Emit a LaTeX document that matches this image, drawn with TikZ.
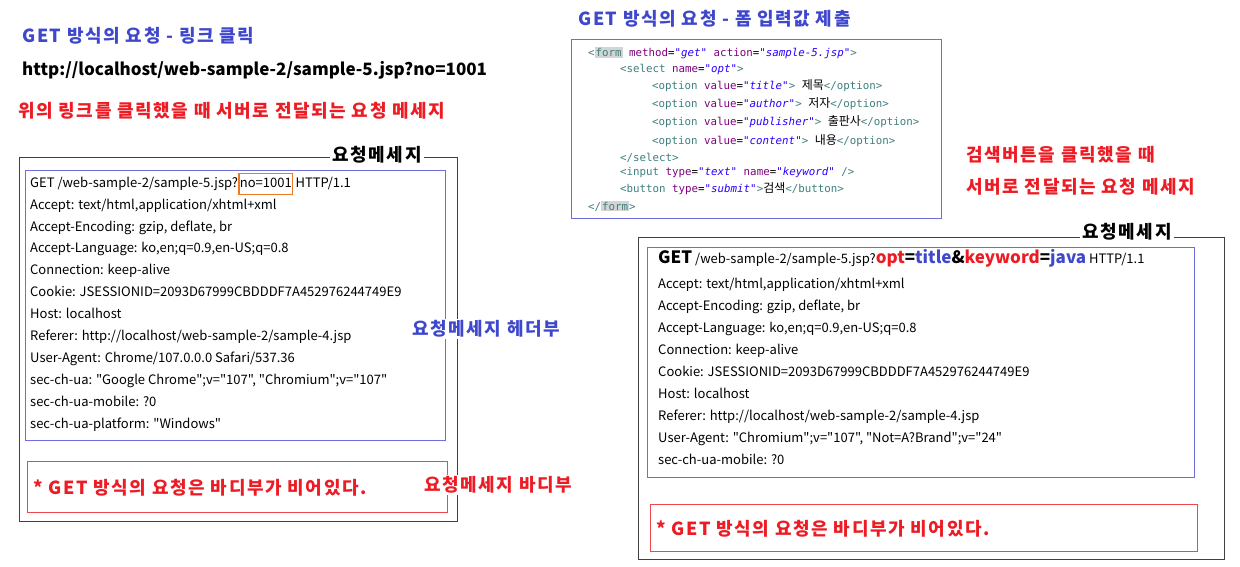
\documentclass[tikz,border=0pt]{standalone}
\usepackage{fontspec}
\setmainfont{Noto Sans CJK KR}[Ligatures=TeXOff]
\setmonofont{DejaVu Sans Mono}
\newfontfamily\krfont{Noto Sans CJK KR}
\newfontfamily\ttlfont{Noto Sans CJK KR}[LetterSpace=9,Ligatures=TeXOff]
\usepackage{tikz}
\usetikzlibrary{positioning}
\definecolor{ttlblue}{RGB}{63,72,204}
\definecolor{msgred}{RGB}{237,28,36}
\definecolor{boxblue}{RGB}{110,110,220}
\definecolor{boxred}{RGB}{240,70,80}
\definecolor{boxorange}{RGB}{240,120,30}
\definecolor{tagteal}{RGB}{63,127,127}
\definecolor{attrpurple}{RGB}{127,0,127}
\definecolor{valblue}{RGB}{42,0,255}
\tikzstyle{hline}=[anchor=west,inner sep=0pt,font=\fontsize{13}{15}\selectfont,text height=9.5pt,text depth=3pt]
\tikzstyle{btitle}=[anchor=west,inner sep=0pt,text=ttlblue,font=\ttlfont\fontsize{18}{21}\selectfont\bfseries]
\tikzstyle{rtitle}=[anchor=west,inner sep=0pt,text=msgred,font=\ttlfont\fontsize{18}{21}\selectfont\bfseries]
\tikzstyle{msglbl}=[fill=white,inner sep=2pt,font=\ttlfont\fontsize{18}{21}\selectfont\bfseries]
\tikzstyle{cline}=[anchor=west,inner sep=0pt,font=\ttfamily\fontsize{10.8}{13}\selectfont]
\tikzstyle{frame}=[draw=black!75,line width=0.9pt]
\tikzstyle{hbox}=[draw=boxblue,line width=0.9pt]
\tikzstyle{bbox}=[draw=boxred,line width=0.9pt]
\newcommand{\codetag}[1]{\textcolor{tagteal}{#1}}
\newcommand{\codeattr}[1]{\textcolor{attrpurple}{#1}}
\newcommand{\codeval}[1]{\textcolor{valblue}{\itshape #1}}
\newcommand{\codekr}[1]{{\krfont\fontsize{12}{13}\selectfont #1}}
\newcommand{\formhl}{{\setlength{\fboxsep}{1pt}\colorbox{black!17}{\codetag{form}}}}
\begin{document}
\begin{tikzpicture}[x=1pt,y=-1pt]
    \useasboundingbox[fill=white] (0,0) rectangle (1240,567);
    % link request
    \node[btitle] (T1) at (22,36) {GET 방식의 요청 - 링크 클릭};
    \node[anchor=west,inner sep=0pt,font=\fontsize{17}{20}\selectfont\bfseries] (url) at (22,70) {http://localhost/web-sample-2/sample-5.jsp?no=1001};
    \node[rtitle] (T2) at (18,111) {위의 링크를 클릭했을 때 서버로 전달되는 요청 메세지};
    \draw[frame] (19,157) rectangle (457,521);
    \draw[hbox] (25,170) rectangle (445,440);
    \draw[bbox] (27,461) rectangle (447,512);
    \node[msglbl] (M1) at (377,155) {요청메세지};
    \node[hline] (L1) at (30,184) {GET /web-sample-2/sample-5.jsp?};
    \node[hline,draw=boxorange,line width=1.2pt,inner xsep=1pt,inner ysep=4pt,right=0pt of L1] (q1) {no=1001};
    \node[hline,right=2pt of q1] (L1b) {HTTP/1.1};
    \foreach \t [count=\i from 2] in {{Accept: text/html,application/xhtml+xml},
        {Accept-Encoding: gzip, deflate, br},
        {Accept-Language: ko,en;q=0.9,en-US;q=0.8},
        {Connection: keep-alive},
        {Cookie: JSESSIONID=2093D67999CBDDDF7A452976244749E9},
        {Host: localhost},
        {Referer: http://localhost/web-sample-2/sample-4.jsp},
        {User-Agent: Chrome/107.0.0.0 Safari/537.36},
        {sec-ch-ua: "Google Chrome";v="107", "Chromium";v="107"},
        {sec-ch-ua-mobile: ?0},
        {sec-ch-ua-platform: "Windows"}}
      \node[hline] (L\i) at (30,{184+21.9*(\i-1)}) {\t};
    \node[msglbl,text=ttlblue,anchor=west] (H1) at (410,329) {요청메세지 헤더부};
    \node[msglbl,text=msgred,anchor=west] (B1) at (422,485) {요청메세지 바디부};
    \node[rtitle] (E1) at (33,488) {* GET 방식의 요청은 바디부가 비어있다.};
    % form request
    \node[btitle] (T3) at (578,19) {GET 방식의 요청 - 폼 입력값 제출};
    \draw[hbox] (571,39) rectangle (941,218);
    \node[cline] (C1) at (588,53) {\codetag{<}\formhl\ \codeattr{method}=\codeval{"get"} \codeattr{action}=\codeval{"sample-5.jsp"}\codetag{>}};
    \node[cline] (C2) at (620,69) {\codetag{<select} \codeattr{name}=\codeval{"opt"}\codetag{>}};
    \node[cline] (C3) at (652,86) {\codetag{<option} \codeattr{value}=\codeval{"title"}\codetag{>} \codekr{제목}\codetag{</option>}};
    \node[cline] (C4) at (652,104) {\codetag{<option} \codeattr{value}=\codeval{"author"}\codetag{>} \codekr{저자}\codetag{</option>}};
    \node[cline] (C5) at (652,122) {\codetag{<option} \codeattr{value}=\codeval{"publisher"}\codetag{>} \codekr{출판사}\codetag{</option>}};
    \node[cline] (C6) at (652,141) {\codetag{<option} \codeattr{value}=\codeval{"content"}\codetag{>} \codekr{내용}\codetag{</option>}};
    \node[cline] (C7) at (620,158) {\codetag{</select>}};
    \node[cline] (C8) at (620,173) {\codetag{<input} \codeattr{type}=\codeval{"text"} \codeattr{name}=\codeval{"keyword"} \codetag{/>}};
    \node[cline] (C9) at (620,189) {\codetag{<button} \codeattr{type}=\codeval{"submit"}\codetag{>}\codekr{검색}\codetag{</button>}};
    \node[cline] (C10) at (588,206) {\codetag{</}\formhl\codetag{>}};
    \node[rtitle] (T4) at (966,155) {검색버튼을 클릭했을 때};
    \node[rtitle] (T5) at (966,187) {서버로 전달되는 요청 메세지};
    \draw[frame] (638,237) rectangle (1224,559);
    \draw[hbox] (647,247) rectangle (1194,477);
    \draw[bbox] (650,504) rectangle (1197,551);
    \node[msglbl] (M2) at (1127,232) {요청메세지};
    \node[hline] (R1) at (658,260) {{\fontsize{17}{20}\selectfont\bfseries GET}\ /web-sample-2/sample-5.jsp?{\fontsize{17}{20}\selectfont\bfseries\textcolor{msgred}{opt}=\textcolor{ttlblue}{title}\&\textcolor{msgred}{keyword}=\textcolor{ttlblue}{java}} HTTP/1.1};
    \foreach \t [count=\i from 2] in {{Accept: text/html,application/xhtml+xml},
        {Accept-Encoding: gzip, deflate, br},
        {Accept-Language: ko,en;q=0.9,en-US;q=0.8},
        {Connection: keep-alive},
        {Cookie: JSESSIONID=2093D67999CBDDDF7A452976244749E9},
        {Host: localhost},
        {Referer: http://localhost/web-sample-2/sample-4.jsp},
        {User-Agent: "Chromium";v="107", "Not=A?Brand";v="24"},
        {sec-ch-ua-mobile: ?0}}
      \node[hline] (R\i) at (658,{285+22*(\i-2)}) {\t};
    \node[rtitle] (E2) at (656,529) {* GET 방식의 요청은 바디부가 비어있다.};
\end{tikzpicture}
\end{document}
